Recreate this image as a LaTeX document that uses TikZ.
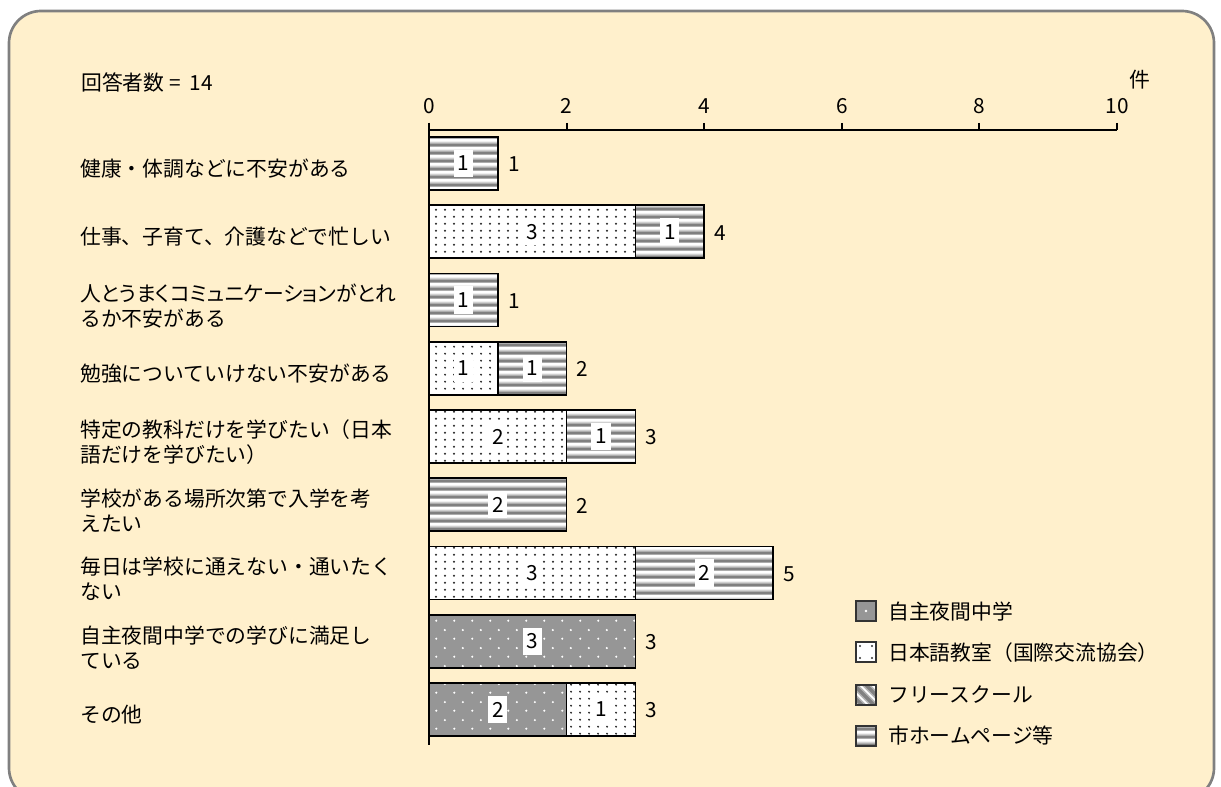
\documentclass[tikz,border=0pt]{standalone}
\usepackage{fontspec}
\setmainfont{Noto Sans CJK JP}
\usetikzlibrary{patterns.meta}
\definecolor{bgfill}{RGB}{255,240,204}
\definecolor{bgline}{RGB}{128,128,128}
\definecolor{nightgray}{RGB}{150,150,150}
\definecolor{stripedark}{RGB}{128,128,128}
\definecolor{stripemid}{RGB}{180,180,180}
\definecolor{stripelight}{RGB}{215,215,215}

\tikzdeclarepattern{
  name=blackdots,
  type=colored,
  bottom left={(0pt,0pt)},
  top right={(6.75pt,5.4pt)},
  tile size={(6.75pt,5.4pt)},
  code={\fill[black!85] (3.375pt,2.7pt) circle[radius=0.9pt];}
}
\tikzdeclarepattern{
  name=whitedots,
  type=colored,
  bottom left={(0pt,0pt)},
  top right={(13.5pt,13.5pt)},
  tile size={(13.5pt,13.5pt)},
  code={\fill[white] (3.375pt,3.375pt) circle[radius=0.9pt];
        \fill[white] (10.125pt,10.125pt) circle[radius=0.9pt];}
}
\tikzdeclarepattern{
  name=hstripes,
  type=colored,
  bottom left={(0pt,0pt)},
  top right={(4pt,6pt)},
  tile size={(4pt,6pt)},
  code={\fill[stripemid] (0pt,0pt) rectangle (4pt,0.75pt);
        \fill[stripedark] (0pt,0.75pt) rectangle (4pt,3pt);
        \fill[stripemid] (0pt,3pt) rectangle (4pt,3.75pt);
        \fill[stripelight] (0pt,3.75pt) rectangle (4pt,4.4pt);}
}

\tikzset{
  lbl/.style={font=\fontsize{15.6}{18.75}\selectfont, inner sep=0pt},
  catlbl/.style={lbl, anchor=west, align=left},
  seglbl/.style={lbl, fill=white, minimum width=14.5pt, minimum height=20.5pt},
  totlbl/.style={lbl, anchor=west},
  ticklbl/.style={lbl},
  barline/.style={draw=black, line width=1.2pt},
  axisline/.style={draw=black, line width=1.6pt},
  jpfill/.style={fill=white, postaction={pattern=blackdots}},
  nightfill/.style={fill=nightgray, postaction={pattern=whitedots}},
  hpfill/.style={fill=white, postaction={pattern=hstripes}},
  legbox/.style={draw=black!80, line width=1pt},
}

\newcommand\barseg[6]{%
  \fill[#5] ({429+68.8*(#3)},{#2-26.5}) rectangle ({429+68.8*(#3+#4)},{#2+26.5});
  \draw[barline] ({429+68.8*(#3)},{#2-26.5}) rectangle ({429+68.8*(#3+#4)},{#2+26.5});
  \node[seglbl] (#1) at ({429+68.8*(#3+(#4)/2)},#2) {#6};
}

\begin{document}
\begin{tikzpicture}[x=0.75pt,y=-0.75pt]
\useasboundingbox (0,0) rectangle (1221,787);
% background panel
\draw[fill=bgfill, draw=bgline, line width=2pt, rounded corners=24pt] (9,11) rectangle (1214,800);

% header
\node[lbl, anchor=west] (n) at (81,82) {回答者数\ = \ 14};
\node[ticklbl] (unit) at (1140,80) {件};

% axes
\coordinate (ax0) at (429,130);
\coordinate (ax1) at (1117,130);
\coordinate (vbot) at (429,745);
\draw[axisline] (ax0) -- (ax1);
\draw[axisline] (429,123) -- (vbot);
\foreach \v/\nm in {0/a,2/b,4/c,6/d,8/e,10/f}{
  \draw[axisline] ({429+68.8*\v},123) -- ({429+68.8*\v},130);
  \node[ticklbl] (tick\nm) at ({429+68.8*\v},106) {\v};
}

% category labels
\node[catlbl] (c1) at (80,168.5) {健康・体調などに不安がある};
\node[catlbl] (c2) at (80,236.75) {仕事、子育て、介護などで忙しい};
\node[catlbl] (c3) at (80,306) {{\addfontfeatures{RawFeature=+palt}人とうまくコミュニケーションがとれ}\\るか不安がある};
\node[catlbl] (c4) at (80,373.25) {勉強についていけない不安がある};
\node[catlbl] (c5) at (80,442.5) {特定の教科だけを学びたい（日本\\語だけを学びたい）};
\node[catlbl] (c6) at (80,510.75) {学校がある場所次第で入学を考\\えたい};
\node[catlbl] (c7) at (80,579) {毎日は学校に通えない・通いたく\\ない};
\node[catlbl] (c8) at (80,647.25) {自主夜間中学での学びに満足し\\ている};
\node[catlbl] (c9) at (80,714.5) {その他};

% bars
\barseg{s1a}{163.5}{0}{1}{hpfill}{1}
\barseg{s2a}{231.75}{0}{3}{jpfill}{3}
\barseg{s2b}{231.75}{3}{1}{hpfill}{1}
\barseg{s3a}{300}{0}{1}{hpfill}{1}
\barseg{s4a}{368.25}{0}{1}{jpfill}{1}
\barseg{s4b}{368.25}{1}{1}{hpfill}{1}
\barseg{s5a}{436.5}{0}{2}{jpfill}{2}
\barseg{s5b}{436.5}{2}{1}{hpfill}{1}
\barseg{s6a}{504.75}{0}{2}{hpfill}{2}
\barseg{s7a}{573}{0}{3}{jpfill}{3}
\barseg{s7b}{573}{3}{2}{hpfill}{2}
\barseg{s8a}{641.25}{0}{3}{nightfill}{3}
\barseg{s9a}{709.5}{0}{2}{nightfill}{2}
\barseg{s9b}{709.5}{2}{1}{jpfill}{1}

% totals
\node[totlbl] (t1) at ({429+68.8*1+10},164.5) {1};
\node[totlbl] (t2) at ({429+68.8*4+10},232.75) {4};
\node[totlbl] (t3) at ({429+68.8*1+10},301) {1};
\node[totlbl] (t4) at ({429+68.8*2+10},369.25) {2};
\node[totlbl] (t5) at ({429+68.8*3+10},437.5) {3};
\node[totlbl] (t6) at ({429+68.8*2+10},505.75) {2};
\node[totlbl] (t7) at ({429+68.8*5+10},574) {5};
\node[totlbl] (t8) at ({429+68.8*3+10},642.25) {3};
\node[totlbl] (t9) at ({429+68.8*3+10},710.5) {3};

% legend
% 1: night school
\fill[nightgray] (856,601) rectangle (876,621);
\fill[white] (866,611) circle[radius=1.3];
\draw[legbox] (856,601) rectangle (876,621);
\node[lbl, anchor=west] (l1) at (888,612) {自主夜間中学};
% 2: Japanese class
\fill[white] (856,642) rectangle (876,662);
\foreach \px/\py in {860/646,860/658,872/646,872/658}{
  \fill[black!80] (\px,\py) circle[radius=1.2];
}
\draw[legbox] (856,642) rectangle (876,662);
\node[lbl, anchor=west] (l2) at (888,653) {日本語教室（国際交流協会）};
% 3: free school
\begin{scope}
  \clip (856,685) rectangle (876,705);
  \fill[white] (856,685) rectangle (876,705);
  \foreach \o in {-14,-2,10}{
    \draw[stripemid, line width=5pt] ({856+\o-6},{685-6}) -- ({856+\o+28},{685+28});
    \draw[stripedark, line width=2.5pt] ({856+\o-6},{685-6}) -- ({856+\o+28},{685+28});
  }
\end{scope}
\draw[legbox] (856,685) rectangle (876,705);
\node[lbl, anchor=west] (l3) at (888,695) {フリースクール};
% 4: city website
\fill[hpfill] (856,726) rectangle (876,746);
\draw[legbox] (856,726) rectangle (876,746);
\node[lbl, anchor=west] (l4) at (888,736) {市ホームページ等};
\end{tikzpicture}
\end{document}
